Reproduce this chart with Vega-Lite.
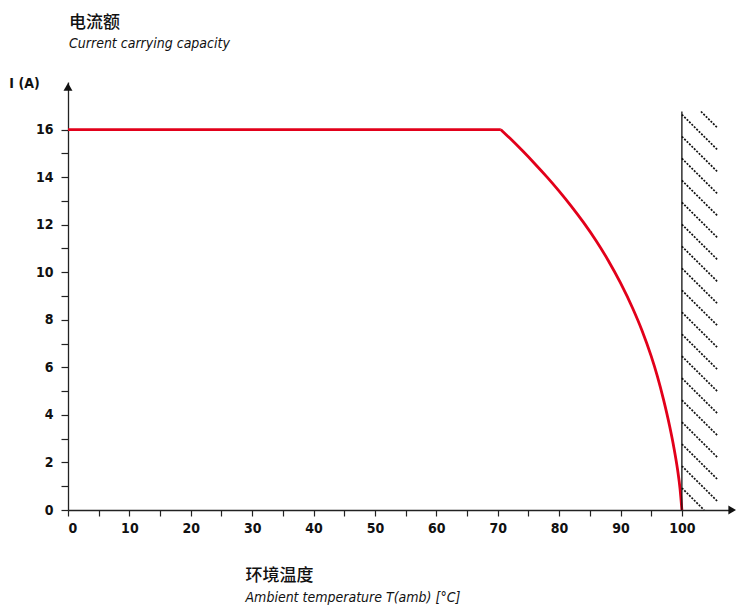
{
  "$schema": "https://vega.github.io/schema/vega-lite/v6.json",
  "width": 663,
  "height": 428,
  "autosize": {"type": "none"},
  "padding": {"left": 68, "top": 82, "right": 5, "bottom": 98},
  "background": "white",
  "title": {
    "text": "电流额",
    "subtitle": "Current carrying capacity",
    "anchor": "start",
    "frame": "group",
    "dx": 1,
    "offset": 24,
    "font": "Noto Sans CJK SC",
    "fontSize": 17,
    "fontWeight": 500,
    "color": "#111",
    "subtitleFont": "DejaVu Sans Condensed",
    "subtitleFontStyle": "italic",
    "subtitleFontSize": 14,
    "subtitleColor": "#111",
    "subtitlePadding": 5
  },
  "datasets": {
    "flat": [
      {"T": 0, "I": 16}, {"T": 70.5, "I": 16}
    ],
    "curve": [
      {"T": 70.5, "I": 16}, {"T": 72, "I": 15.63}, {"T": 74, "I": 15.115},
      {"T": 76, "I": 14.575}, {"T": 78, "I": 14.01}, {"T": 80, "I": 13.41}, {"T": 82, "I": 12.77},
      {"T": 84, "I": 12.085}, {"T": 86, "I": 11.335}, {"T": 88, "I": 10.495}, {"T": 90, "I": 9.55},
      {"T": 92, "I": 8.475}, {"T": 93.5, "I": 7.55}, {"T": 95, "I": 6.47}, {"T": 96, "I": 5.63},
      {"T": 97, "I": 4.65}, {"T": 98, "I": 3.53}, {"T": 98.7, "I": 2.62}, {"T": 99.3, "I": 1.69},
      {"T": 99.7, "I": 0.89}, {"T": 100, "I": 0}
    ],
    "hatch": [
      {"x": 100, "y": 0.924, "x2": 103.61, "y2": 0},
      {"x": 100, "y": 1.848, "x2": 105.86, "y2": 0.348},
      {"x": 100, "y": 2.772, "x2": 105.86, "y2": 1.272},
      {"x": 100, "y": 3.696, "x2": 105.86, "y2": 2.196},
      {"x": 100, "y": 4.62, "x2": 105.86, "y2": 3.12},
      {"x": 100, "y": 5.544, "x2": 105.86, "y2": 4.044},
      {"x": 100, "y": 6.468, "x2": 105.86, "y2": 4.968},
      {"x": 100, "y": 7.392, "x2": 105.86, "y2": 5.892},
      {"x": 100, "y": 8.316, "x2": 105.86, "y2": 6.816},
      {"x": 100, "y": 9.24, "x2": 105.86, "y2": 7.74},
      {"x": 100, "y": 10.164, "x2": 105.86, "y2": 8.664},
      {"x": 100, "y": 11.088, "x2": 105.86, "y2": 9.588},
      {"x": 100, "y": 12.012, "x2": 105.86, "y2": 10.512},
      {"x": 100, "y": 12.936, "x2": 105.86, "y2": 11.436},
      {"x": 100, "y": 13.86, "x2": 105.86, "y2": 12.36},
      {"x": 100, "y": 14.784, "x2": 105.86, "y2": 13.284},
      {"x": 100, "y": 15.708, "x2": 105.86, "y2": 14.208},
      {"x": 100, "y": 16.632, "x2": 105.86, "y2": 15.132},
      {"x": 103.11, "y": 16.76, "x2": 105.86, "y2": 16.056}
    ],
    "border": [{"x": 100, "y": 0, "y2": 16.76}],
    "xarrow": [{"x": 108.2, "y": 0}],
    "yarrow": [{"x": 0, "y": 17.8}]
  },
  "layer": [
    {
      "data": {"name": "flat"},
      "mark": {"type": "line", "color": "#e2001a", "strokeWidth": 2.8, "interpolate": "linear"},
      "encoding": {
        "x": {
          "field": "T", "type": "quantitative",
          "scale": {"domain": [0, 108], "nice": false, "zero": false},
          "axis": {
            "orient": "bottom",
            "values": [0, 5, 10, 15, 20, 25, 30, 35, 40, 45, 50, 55, 60, 65, 70, 75, 80, 85, 90, 95, 100],
            "labelExpr": "datum.value % 10 === 0 ? datum.label : ''",
            "grid": false,
            "tickSize": 6,
            "labelPadding": 5,
            "title": "环境温度",
            "titleFont": "Noto Sans CJK SC",
            "titleFontSize": 17,
            "titleFontWeight": 500,
            "titleX": 177,
            "titleY": 65,
            "titleAlign": "left",
            "titleBaseline": "middle",
            "titleAngle": 0
          }
        },
        "y": {
          "field": "I", "type": "quantitative",
          "scale": {"domain": [0, 18], "nice": false, "zero": false},
          "axis": {
            "values": [0, 1, 2, 3, 4, 5, 6, 7, 8, 9, 10, 11, 12, 13, 14, 15, 16],
            "labelExpr": "datum.value % 2 === 0 ? datum.label : ''",
            "grid": false,
            "tickSize": 7,
            "labelPadding": 8,
            "title": "I (A)",
            "titleAngle": 0,
            "titleAlign": "center",
            "titleBaseline": "middle",
            "titleX": -44,
            "titleY": 1,
            "titleFont": "DejaVu Sans Condensed",
            "titleFontSize": 14,
            "titleFontWeight": "bold"
          }
        }
      }
    },
    {
      "data": {"name": "curve"},
      "mark": {"type": "line", "color": "#e2001a", "strokeWidth": 2.8, "interpolate": "monotone"},
      "encoding": {
        "x": {"field": "T", "type": "quantitative", "axis": null},
        "y": {"field": "I", "type": "quantitative", "axis": null}
      }
    },
    {
      "data": {"name": "hatch"},
      "mark": {"type": "rule", "color": "#111", "strokeWidth": 1.7, "strokeDash": [2, 1.4]},
      "encoding": {
        "x": {
          "field": "x", "type": "quantitative",
          "axis": {
            "orient": "bottom",
            "labels": false,
            "ticks": false,
            "domain": false,
            "grid": false,
            "title": "Ambient temperature T(amb) [°C]",
            "titleFont": "DejaVu Sans Condensed",
            "titleFontStyle": "italic",
            "titleFontSize": 14,
            "titleFontWeight": "normal",
            "titleX": 177,
            "titleY": 87,
            "titleAlign": "left",
            "titleBaseline": "middle",
            "titleAngle": 0
          }
        },
        "y": {"field": "y", "type": "quantitative", "axis": null},
        "x2": {"field": "x2"},
        "y2": {"field": "y2"}
      }
    },
    {
      "data": {"name": "border"},
      "mark": {"type": "rule", "color": "#111", "strokeWidth": 1.3},
      "encoding": {
        "x": {"field": "x", "type": "quantitative", "axis": null},
        "y": {"field": "y", "type": "quantitative", "axis": null},
        "y2": {"field": "y2"}
      }
    },
    {
      "data": {"name": "xarrow"},
      "mark": {"type": "point", "shape": "triangle-right", "filled": true, "color": "#111", "size": 80, "opacity": 1},
      "encoding": {
        "x": {"field": "x", "type": "quantitative", "axis": null},
        "y": {"field": "y", "type": "quantitative", "axis": null}
      }
    },
    {
      "data": {"name": "yarrow"},
      "mark": {"type": "point", "shape": "triangle-up", "filled": true, "color": "#111", "size": 80, "opacity": 1},
      "encoding": {
        "x": {"field": "x", "type": "quantitative", "axis": null},
        "y": {"field": "y", "type": "quantitative", "axis": null}
      }
    }
  ],
  "resolve": {"axis": {"x": "independent", "y": "independent"}},
  "config": {
    "view": {"stroke": null},
    "axis": {
      "domainColor": "#222",
      "domainWidth": 1.3,
      "tickColor": "#222",
      "tickWidth": 1.2,
      "labelFont": "DejaVu Sans Condensed",
      "labelFontSize": 14,
      "labelFontWeight": "bold",
      "labelColor": "#111",
      "titleColor": "#111"
    }
  }
}
